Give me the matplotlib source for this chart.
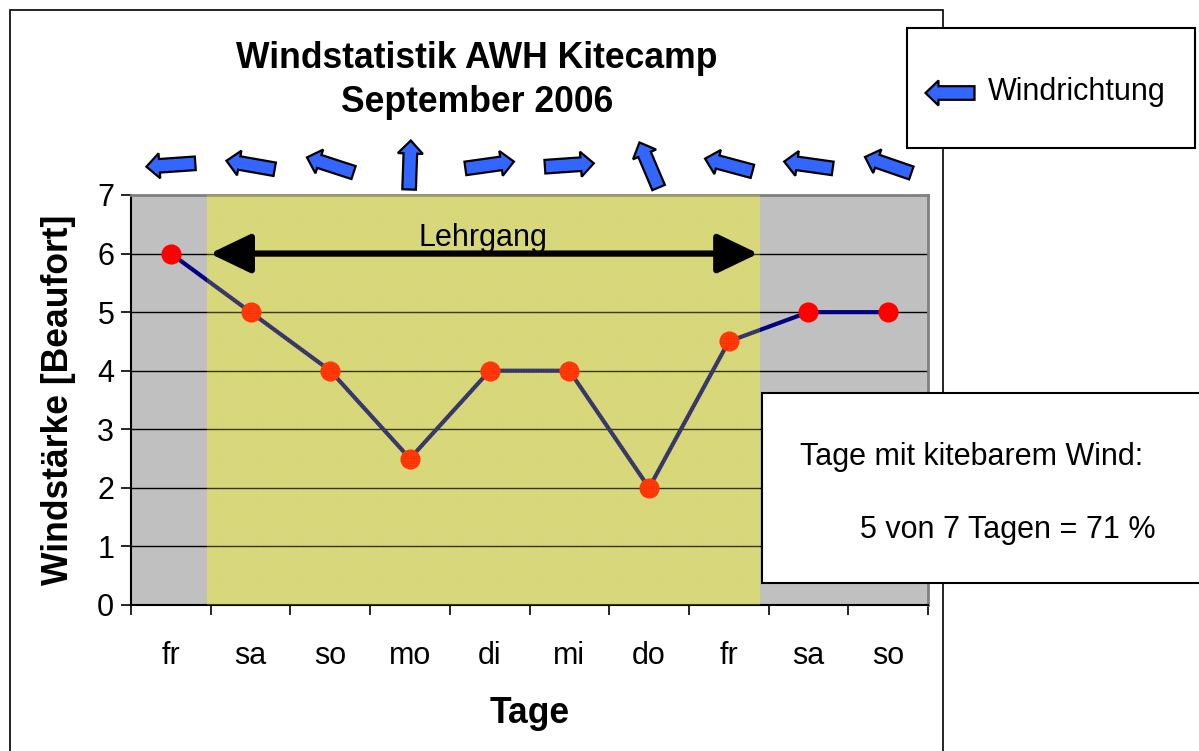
import matplotlib
matplotlib.use("Agg")
import matplotlib.pyplot as plt
import matplotlib.transforms as mtransforms
from matplotlib.patches import Polygon, Rectangle
import numpy as np

plt.rcParams['font.family'] = ['Liberation Sans', 'DejaVu Sans']
plt.rcParams['hatch.linewidth'] = 0.6

# daten
tage = ['fr', 'sa', 'so', 'mo', 'di', 'mi', 'do', 'fr', 'sa', 'so']
windstaerke = [6, 5, 4, 2.5, 4, 4, 2, 4.5, 5, 5]
# windrichtung als winkel des pfeils (grad, 0 = nach rechts, gegen uhrzeigersinn)
windrichtung = [184, 170, 162, 88, 8, 4, 113, 165, 172, 161]
lehrgang_von, lehrgang_bis = 0.45, 7.39

W, H = 1199, 751
fig = plt.figure(figsize=(W / 100, H / 100), dpi=100)
ax = fig.add_axes([131 / W, 1 - 605 / H, (928 - 131) / W, (605 - 195) / H])

x = np.arange(len(tage))
ax.set_facecolor('#C0C0C0')
ax.set_xlim(-0.5, len(tage) - 0.5)
ax.set_ylim(0, 7)

# lehrgang-bereich, unterer teil
ax.axvspan(lehrgang_von, lehrgang_bis, facecolor='#FFFF00', alpha=0.22,
           edgecolor='none', zorder=0.5)

# gitter
for yy in range(1, 7):
    ax.axhline(yy, color='black', lw=1.0, zorder=1)

ax.plot(x, windstaerke, color='#000080', lw=3, zorder=2)
ax.plot(x, windstaerke, 'o', color='red', ms=13.5, zorder=3)

# gelbes muster ueber den daten
ax.axvspan(lehrgang_von, lehrgang_bis, facecolor='#FFFF00', alpha=0.11,
           edgecolor='none', zorder=4)
ax.axvspan(lehrgang_von, lehrgang_bis, facecolor='none', edgecolor='#FFFF40',
           hatch='+' * 10, lw=0, alpha=0.15, zorder=4)

# doppelpfeil lehrgang
ax.annotate('', xy=(lehrgang_von + 0.04, 6), xytext=(lehrgang_bis - 0.02, 6),
            arrowprops=dict(arrowstyle='<|-|>,head_length=2.5,head_width=1.2',
                            color='black', lw=4.5, shrinkA=0, shrinkB=0), zorder=5)
ax.text((lehrgang_von + lehrgang_bis) / 2, 6.13, 'Lehrgang', ha='center',
        va='baseline', fontsize=22, zorder=5)

# achsen
ax.set_yticks(range(0, 8))
ax.tick_params(axis='y', direction='out', length=7, width=1.2, labelsize=22, pad=5)
ax.set_xticks(x)
ax.set_xticklabels(tage)
ax.set_xticks(np.arange(-0.5, len(tage)), minor=True)
ax.tick_params(axis='x', which='major', length=0, labelsize=22, pad=26)
ax.tick_params(axis='x', which='minor', direction='out', length=7, width=1.2)
for s in ['top', 'right']:
    ax.spines[s].set_color('#808080')
    ax.spines[s].set_linewidth(2)
for s in ['left', 'bottom']:
    ax.spines[s].set_color('black')
    ax.spines[s].set_linewidth(1.5)

ax.set_ylabel('Windstärke [Beaufort]', fontsize=25.6, fontweight='bold', labelpad=15)
ax.set_xlabel('Tage', fontsize=25.6, fontweight='bold', labelpad=18)

fig.text(477 / W, 1 - 58 / H, 'Windstatistik AWH Kitecamp', ha='center',
         va='center', fontsize=25.6, fontweight='bold')
fig.text(477 / W, 1 - 103 / H, 'September 2006', ha='center', va='center',
         fontsize=25.6, fontweight='bold')


def pfeil_form(winkel):
    # pfeil in zoll, um den mittelpunkt
    L, sw, hw, hl = 0.49, 0.068, 0.125, 0.13
    pts = np.array([[-L / 2, -sw], [L / 2 - hl, -sw], [L / 2 - hl, -hw], [L / 2, 0],
                    [L / 2 - hl, hw], [L / 2 - hl, sw], [-L / 2, sw]])
    a = np.deg2rad(winkel)
    rot = np.array([[np.cos(a), -np.sin(a)], [np.sin(a), np.cos(a)]])
    return pts @ rot.T


blend = mtransforms.blended_transform_factory(ax.transData, ax.transAxes)
for xi, w in zip(x, windrichtung):
    tr = fig.dpi_scale_trans + mtransforms.ScaledTranslation(xi, 1 + 30 / 410, blend)
    p = Polygon(pfeil_form(w), closed=True, facecolor='#3366FF', edgecolor='black',
                lw=1.6, transform=tr, clip_on=False, zorder=6)
    fig.add_artist(p)

# rahmen des diagramms
fig.add_artist(Rectangle((10 / W, -0.1), (943 - 10) / W, 1.1 - 10 / H,
                         transform=fig.transFigure, facecolor='none',
                         edgecolor='black', lw=1.2, zorder=-1))

# legende
fig.add_artist(Rectangle((907 / W, 1 - 148 / H), (1195 - 907) / W, 120 / H,
                         transform=fig.transFigure, facecolor='white',
                         edgecolor='black', lw=1.5, zorder=5))
tr = fig.dpi_scale_trans + mtransforms.ScaledTranslation(950 / W, 1 - 93 / H, fig.transFigure)
fig.add_artist(Polygon(pfeil_form(180), closed=True, facecolor='#3366FF',
                       edgecolor='black', lw=1.6, transform=tr, zorder=6))
fig.text(988 / W, 1 - 92 / H, 'Windrichtung', ha='left', va='center',
         fontsize=22, zorder=6)

# textfeld
fig.add_artist(Rectangle((762 / W, 1 - 583 / H), 0.4, 190 / H,
                         transform=fig.transFigure, facecolor='white',
                         edgecolor='black', lw=1.5, zorder=5))
fig.text(800 / W, 1 - 457 / H, 'Tage mit kitebarem Wind:', ha='left',
         va='center', fontsize=22, zorder=6)
fig.text(860 / W, 1 - 530 / H, '5 von 7 Tagen = 71 %', ha='left',
         va='center', fontsize=22, zorder=6)

fig.savefig('out.png', dpi=100)
